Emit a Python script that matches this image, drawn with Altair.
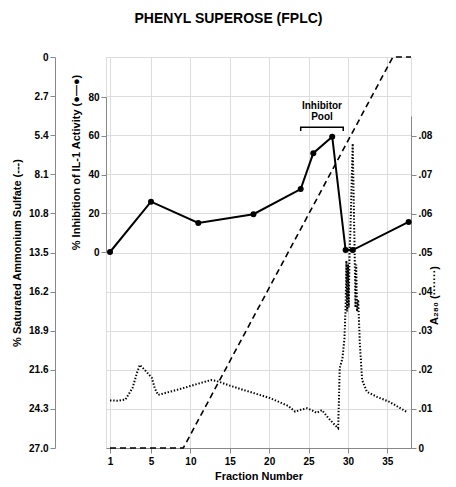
import altair as alt
import pandas as pd

# ---- data ----
# Ammonium sulfate gradient (% saturated), dashed line
grad_fraction = [1, 9.1, 35.7, 38]
grad_sat = [27.0, 27.0, 0.0, 0.0]

# % inhibition of IL-1 activity (solid line with dots)
inh_fraction = [1, 5, 11, 18, 24, 25.6, 28, 29.7, 30.6, 37.7]
inh_pct = [0, 26, 15, 19.5, 32.5, 51, 59.5, 1, 1, 15.5]

# A280 trace (dotted line)
a280_fraction = [1, 1.8, 2.5, 3.2, 3.6, 3.9, 4.4, 5.1, 5.5, 5.9, 7, 9, 11, 12.6, 13.3,
                 15, 16.7, 18.5, 20.1, 21.6, 22.4, 23.3, 24.0, 24.8, 25.5, 26.0, 26.7,
                 27.5, 28.1, 28.75, 28.85, 28.95, 29.3, 29.55, 29.7, 29.8, 29.9, 30.0,
                 30.1, 30.2, 30.3, 30.6, 30.85, 30.95, 31.05, 31.15, 31.3, 31.5, 31.8,
                 32.4, 33.7, 35.3, 37.5]
a280_value = [0.0122, 0.0121, 0.0124, 0.0154, 0.019, 0.0213, 0.0200, 0.0180, 0.0152,
              0.0136, 0.0142, 0.0153, 0.0165, 0.0174, 0.0172, 0.0160, 0.0149, 0.0138,
              0.0128, 0.0115, 0.0108, 0.0093, 0.0098, 0.0102, 0.0096, 0.0090, 0.0097,
              0.0077, 0.0064, 0.0051, 0.0120, 0.0205, 0.0230, 0.0280, 0.0360, 0.0480,
              0.0350, 0.0470, 0.0360, 0.0500, 0.0550, 0.0780, 0.0500, 0.0360, 0.0470,
              0.0350, 0.0380, 0.0270, 0.0174, 0.0144, 0.0131, 0.0118, 0.0092]

# Inhibitor pool bracket (in % inhibition units)
pool_fraction = [24, 24, 29.4, 29.4]
pool_level = [62.5, 64.4, 64.4, 62.5]
pool_order = [0, 1, 2, 3]
pool_text = ["Inhibitor", "Pool"]
pool_text_fraction = [26.7, 26.7]
pool_text_level = [75.5, 69.5]

frac_ticks = [1, 5, 10, 15, 20, 25, 30, 35]
sat_ticks = [0, 2.7, 5.4, 8.1, 10.8, 13.5, 16.2, 18.9, 21.6, 24.3, 27.0]
inh_ticks = [0, 20, 40, 60, 80]
a280_ticks = [0, 0.01, 0.02, 0.03, 0.04, 0.05, 0.06, 0.07, 0.08]

W, H = 305, 391
FONT = "Liberation Sans Narrow, Liberation Sans, sans-serif"

grad_df = pd.DataFrame({"fraction": grad_fraction, "sat": grad_sat})
inh_df = pd.DataFrame({"fraction": inh_fraction, "inhib": inh_pct})
a280_df = pd.DataFrame({"fraction": a280_fraction, "a280": a280_value})
pool_df = pd.DataFrame({"fraction": pool_fraction, "inhib": pool_level, "i": pool_order})
pool_t_df = pd.DataFrame({"fraction": pool_text_fraction, "inhib": pool_text_level, "t": pool_text})

xscale = alt.Scale(domain=[0.6, 1, 5, 38], range=[0, 4, 45, W], nice=False, zero=False)
xaxis = alt.Axis(values=frac_ticks, title="Fraction Number", tickSize=5, labelPadding=3,
                 titlePadding=4, labelFontWeight=700)
X = alt.X("fraction:Q", scale=xscale, axis=xaxis)

# gradient layer
sat_axis = alt.Axis(orient="left", offset=51, values=sat_ticks, tickSize=5, labelFontWeight=700,
                    labelExpr="datum.value == 0 ? '0' : format(datum.value, '.1f')",
                    title="% Saturated Ammonium Sulfate (---)", titlePadding=6)
grad = alt.Chart(grad_df).mark_line(color="black", strokeWidth=1.6, strokeDash=[6, 4]).encode(
    x=X,
    y=alt.Y("sat:Q", scale=alt.Scale(domain=[0, 27], range=[0, H], nice=False, zero=False),
            axis=sat_axis),
)

# inhibition layer
inh_axis = alt.Axis(orient="left", offset=0, values=inh_ticks, tickSize=5, labelFontWeight=700,
                    title="% Inhibition of IL-1 Activity (●—●)", titlePadding=6, titleY=105)
inh_scale = alt.Scale(domain=[0, 80], range=[195, 40], nice=False, zero=False)
Yi = alt.Y("inhib:Q", scale=inh_scale, axis=inh_axis)
inh_line = alt.Chart(inh_df).mark_line(color="black", strokeWidth=2).encode(x=X, y=Yi)
inh_pts = alt.Chart(inh_df).mark_circle(color="black", size=36, opacity=1).encode(x=X, y=Yi)
pool = alt.Chart(pool_df).mark_line(color="black", strokeWidth=1.5).encode(
    x=X, y=Yi, order="i:O")
pool_lbl = alt.Chart(pool_t_df).mark_text(font=FONT, fontSize=10, fontWeight="bold",
                                          color="black", baseline="middle").encode(
    x=X, y=Yi, text="t:N")
inh_layer = alt.layer(inh_line, inh_pts, pool, pool_lbl)

# A280 layer
a280_axis = alt.Axis(orient="right", offset=0, values=a280_ticks, tickSize=5, labelFontWeight=700,
                     labelExpr="datum.value == 0 ? '0' : replace(format(datum.value, '.2f'), '0.', '.')",
                     title="A₂₈₀ (·······)", titleAngle=270, titleY=238, titlePadding=8)
a280 = alt.Chart(a280_df).mark_line(color="black", strokeWidth=2, strokeDash=[1.4, 1.8]).encode(
    x=X,
    y=alt.Y("a280:Q", scale=alt.Scale(domain=[0, 0.0851], range=[H, 59], nice=False, zero=False),
            axis=a280_axis),
)

chart = alt.layer(grad, inh_layer, a280).resolve_scale(y="independent").properties(
    width=W, height=H,
    title=alt.TitleParams("PHENYL SUPEROSE (FPLC)", dx=-30, offset=26, font=FONT,
                          fontSize=14, fontWeight="bold", color="black"),
    padding={"left": 106, "top": 57, "right": 45, "bottom": 39},
    autosize=alt.AutoSizeParams(type="none"),
).configure_view(stroke=None).configure_axis(
    grid=False, domainColor="black", domainWidth=1.8, tickColor="black", tickWidth=1.5,
    labelColor="black", labelFont=FONT, labelFontSize=13, labelFontWeight="bold",
    titleColor="black", titleFont=FONT, titleFontSize=12, titleFontWeight="bold",
).configure(background="white")

chart.save("out.html", embed_options={"renderer": "svg", "actions": False})
